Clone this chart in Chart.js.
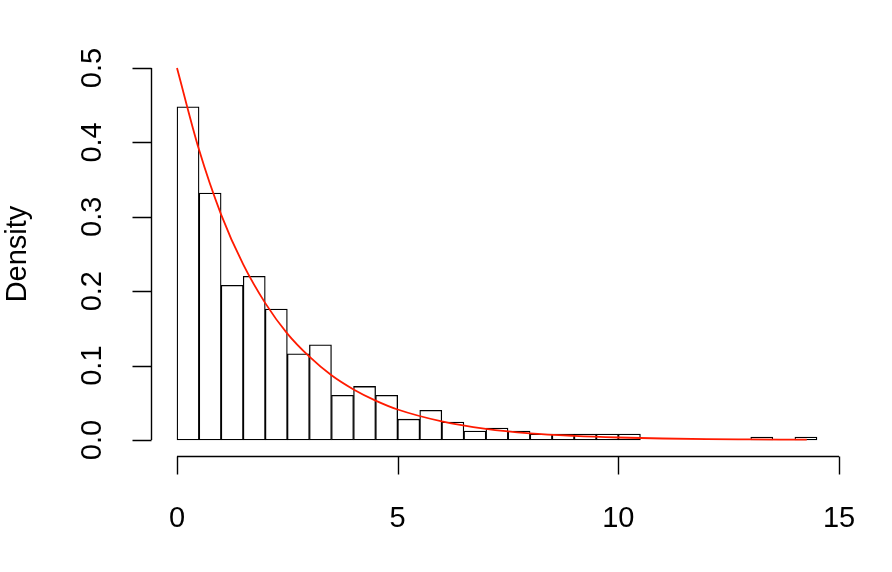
<!DOCTYPE html>
<html>
<head>
<meta charset="utf-8">
<script src="https://cdn.jsdelivr.net/npm/chart.js@4.4.1/dist/chart.umd.min.js"></script>
<style>
  html, body { margin: 0; padding: 0; background: #fff; }
  #wrap { width: 892px; height: 572px; }
</style>
</head>
<body>
<div id="wrap"><canvas id="histChart" width="892" height="572"></canvas></div>
<script>
// histogram bins (width 0.5) starting at 0, density per bin
const binStart = 0;
const binWidth = 0.5;
const densities = [
    0.448, 0.332, 0.208, 0.220, 0.176, 0.116, 0.128, 0.060, 0.072, 0.060,
    0.028, 0.040, 0.024, 0.012, 0.016, 0.012, 0.008, 0.008, 0.008, 0.008,
    0.008, 0.000, 0.000, 0.000, 0.000, 0.000, 0.004, 0.000, 0.004
];

// red density curve
const curveX = [0, 0.5, 1, 1.5, 2, 2.5, 3, 3.5, 4, 4.5, 5, 6, 7, 8, 9, 10, 11, 12, 13, 14.27];
const curveY = [0.500, 0.390, 0.303, 0.236, 0.184, 0.143, 0.112, 0.087, 0.068, 0.053, 0.041,
                0.025, 0.015, 0.009, 0.0056, 0.0034, 0.002, 0.0012, 0.0008, 0.0004];

const xTicks = [0, 5, 10, 15];
const yTicks = [0, 0.1, 0.2, 0.3, 0.4, 0.5];
const yTickLabels = ['0.0', '0.1', '0.2', '0.3', '0.4', '0.5'];
const yTitle = 'Density';

const barData = densities.map((d, i) => ({ x: binStart + binWidth * i + binWidth / 2, y: d }));
const lineData = curveX.map((x, i) => ({ x: x, y: curveY[i] }));

const FONT = '29px "Liberation Sans", Arial, Helvetica, sans-serif';

// R style axes, drawn with the chart's own scales
const rAxes = {
    id: 'rAxes',
    afterDraw(chart) {
        const ctx = chart.ctx;
        const xs = chart.scales.x;
        const ys = chart.scales.y;
        const area = chart.chartArea;
        ctx.save();
        ctx.strokeStyle = '#000';
        ctx.fillStyle = '#000';
        ctx.lineWidth = 1.4;
        ctx.font = FONT;

        // x axis
        const ay = Math.round(area.bottom) + 0.5;
        ctx.beginPath();
        ctx.moveTo(xs.getPixelForValue(xTicks[0]), ay);
        ctx.lineTo(xs.getPixelForValue(xTicks[xTicks.length - 1]), ay);
        xTicks.forEach(t => {
            const px = Math.round(xs.getPixelForValue(t)) + 0.5;
            ctx.moveTo(px, ay);
            ctx.lineTo(px, ay + 18);
        });
        ctx.stroke();
        ctx.textAlign = 'center';
        ctx.textBaseline = 'alphabetic';
        xTicks.forEach(t => {
            ctx.fillText(String(t), xs.getPixelForValue(t), ay + 70);
        });

        // y axis
        const ax = Math.round(area.left) + 0.5;
        ctx.beginPath();
        ctx.moveTo(ax, ys.getPixelForValue(yTicks[0]));
        ctx.lineTo(ax, ys.getPixelForValue(yTicks[yTicks.length - 1]));
        yTicks.forEach(t => {
            const py = Math.round(ys.getPixelForValue(t)) + 0.5;
            ctx.moveTo(ax, py);
            ctx.lineTo(ax - 19, py);
        });
        ctx.stroke();
        yTicks.forEach((t, i) => {
            ctx.save();
            ctx.translate(ax - 51, ys.getPixelForValue(t));
            ctx.rotate(-Math.PI / 2);
            ctx.fillText(yTickLabels[i], 0, 0);
            ctx.restore();
        });

        // axis title
        ctx.save();
        ctx.translate(26, (ys.getPixelForValue(0) + ys.getPixelForValue(0.5)) / 2);
        ctx.rotate(-Math.PI / 2);
        ctx.fillText(yTitle, 0, 0);
        ctx.restore();

        ctx.restore();
    }
};

const ctx = document.getElementById('histChart').getContext('2d');
const chart = new Chart(ctx, {
    type: 'bar',
    data: {
        datasets: [
            {
                type: 'line',
                data: lineData,
                borderColor: '#ff1a00',
                borderWidth: 1.8,
                pointRadius: 0,
                fill: false,
                cubicInterpolationMode: 'monotone',
                order: 0,
            },
            {
                type: 'bar',
                data: barData,
                backgroundColor: '#ffffff',
                borderColor: '#000000',
                borderWidth: 1.3,
                borderSkipped: false,
                barPercentage: 1,
                categoryPercentage: 1,
                order: 1,
            },
        ],
    },
    options: {
        responsive: false,
        animation: false,
        devicePixelRatio: 1,
        layout: { padding: { left: 151, right: 49, top: 53, bottom: 116 } },
        plugins: {
            legend: { display: false },
            tooltip: { enabled: false },
        },
        scales: {
            x: {
                type: 'linear',
                display: false,
                offset: false,
                min: -0.589,
                max: 15.09,
            },
            y: {
                type: 'linear',
                display: false,
                min: -0.0215,
                max: 0.5202,
            },
        },
    },
    plugins: [rAxes],
});
</script>
</body>
</html>
